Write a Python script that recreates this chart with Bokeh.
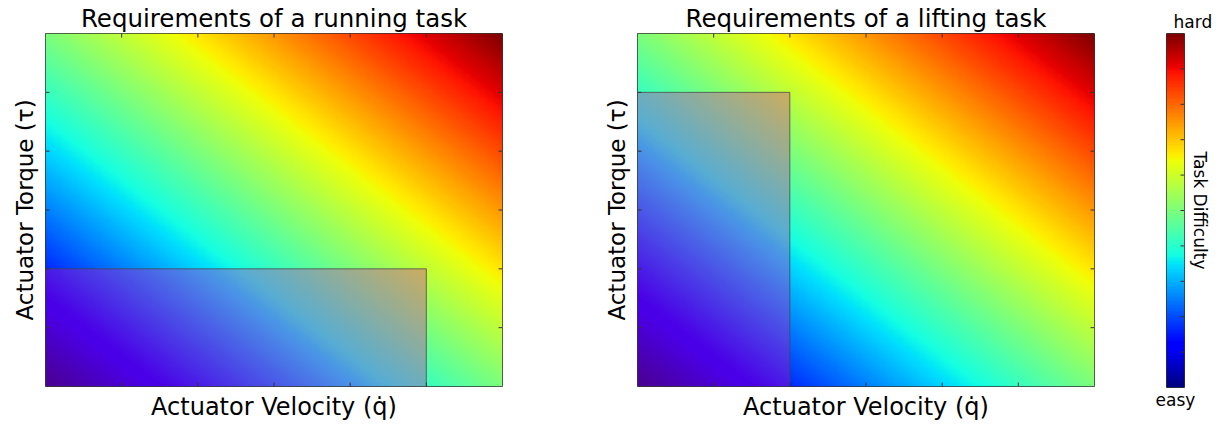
import numpy as np
from bokeh.plotting import figure
from bokeh.models import FixedTicker, LinearColorMapper, Range1d
from bokeh.layouts import row
from bokeh.embed import file_html
from bokeh.resources import INLINE

# ---- data ----
panel_titles = ["Requirements of a running task", "Requirements of a lifting task"]
velocity_requirements = [5, 2]   # required actuator velocity (x extent of shaded box)
torque_requirements = [2, 5]     # required actuator torque (y extent of shaded box)
axis_max = 6
axis_ticks = [1, 2, 3, 4, 5]
colorbar_ticks = [0.1, 0.2, 0.3, 0.4, 0.5, 0.6, 0.7, 0.8, 0.9]
x_label = "Actuator Velocity (q\u0307)"
y_label = "Actuator Torque (\u03c4)"
colorbar_label = "Task Difficulty"
colorbar_top = "hard"
colorbar_bottom = "easy"

FONT = "DejaVu Sans"
EDGE = "#333333"


def jet_palette(n=256):
    # matplotlib 'jet' segment data
    t = np.linspace(0, 1, n)
    r = np.interp(t, [0, 0.35, 0.66, 0.89, 1], [0, 0, 1, 1, 0.5])
    g = np.interp(t, [0, 0.125, 0.375, 0.64, 0.91, 1], [0, 0, 1, 1, 0, 0])
    b = np.interp(t, [0, 0.11, 0.34, 0.65, 1], [0.5, 1, 1, 0, 0])
    return ["#%02x%02x%02x" % (int(round(rr * 255)), int(round(gg * 255)), int(round(bb * 255)))
            for rr, gg, bb in zip(r, g, b)]


JET = jet_palette()


def label_axis(ax, text, size, standoff):
    ax.ticker = FixedTicker(ticks=[])
    ax.major_tick_in = 0
    ax.major_tick_out = 0
    ax.minor_tick_in = 0
    ax.minor_tick_out = 0
    ax.axis_line_color = None
    ax.axis_label = text
    ax.axis_label_text_font = FONT
    ax.axis_label_text_font_style = "normal"
    ax.axis_label_text_color = "#000000"
    ax.axis_label_text_font_size = size
    ax.axis_label_standoff = standoff


def inward_ticks(p, xs=None, ys=None, x_edges=(), y_edges=()):
    # ticks along bottom/top edges at xs, along left/right edges at ys
    for (yedge, ang) in x_edges:
        p.ray(x=xs, y=[yedge] * len(xs), length=4, length_units="screen", angle=ang,
              line_color=EDGE, line_width=1)
    for (xedge, ang) in y_edges:
        p.ray(x=[xedge] * len(ys), y=ys, length=4, length_units="screen", angle=ang,
              line_color=EDGE, line_width=1)


# difficulty field (grows with velocity + torque)
n = 400
grid = np.linspace(0, axis_max, n)
GX, GY = np.meshgrid(grid, grid)
difficulty = GX + GY


def make_panel(title, vreq, treq, left_border, right_border):
    p = figure(frame_width=457, frame_height=353, output_backend="svg", toolbar_location=None,
               x_range=Range1d(0, axis_max), y_range=Range1d(0, axis_max),
               min_border_left=left_border, min_border_right=right_border,
               min_border_top=33, min_border_bottom=34, title=title)
    p.title.text_font = FONT
    p.title.text_font_size = "24.5px"
    p.title.text_font_style = "normal"
    p.title.text_color = "#000000"
    p.title.align = "center"
    p.title.standoff = 2
    p.title.offset = 0
    p.grid.visible = False
    p.outline_line_color = EDGE
    p.outline_line_width = 1
    mapper = LinearColorMapper(palette=JET, low=0, high=2 * axis_max)
    p.image(image=[difficulty], x=0, y=0, dw=axis_max, dh=axis_max, color_mapper=mapper)
    p.quad(left=[0], right=[vreq], bottom=[0], top=[treq], fill_color="#e600b3", fill_alpha=0.32,
           line_color="#444444", line_alpha=0.75, line_width=1)
    inward_ticks(p, xs=axis_ticks, ys=axis_ticks,
                 x_edges=[(0, np.pi / 2), (axis_max, -np.pi / 2)],
                 y_edges=[(0, 0.0), (axis_max, np.pi)])
    label_axis(p.xaxis[0], x_label, "24px", 6)
    label_axis(p.yaxis[0], y_label, "23px", 8)
    return p


p1 = make_panel(panel_titles[0], velocity_requirements[0], torque_requirements[0], 45, 10)
p2 = make_panel(panel_titles[1], velocity_requirements[1], torque_requirements[1], 125, 10)

# colorbar
cb = figure(frame_width=18, frame_height=354, output_backend="svg", toolbar_location=None,
            x_range=Range1d(0, 1), y_range=Range1d(0, 1), y_axis_location="right",
            min_border_left=62, min_border_right=32, min_border_top=33, min_border_bottom=30,
            title=colorbar_top)
cb.title.text_font = FONT
cb.title.text_font_size = "17px"
cb.title.text_font_style = "normal"
cb.title.text_color = "#000000"
cb.title.align = "left"
cb.title.offset = 7
cb.title.standoff = 3
cb.grid.visible = False
cb.outline_line_color = EDGE
cb_mapper = LinearColorMapper(palette=JET, low=0, high=1)
cb.image(image=[np.linspace(0, 1, 256).reshape(256, 1)], x=0, y=0, dw=1, dh=1, color_mapper=cb_mapper)
inward_ticks(cb, ys=colorbar_ticks, y_edges=[(1, np.pi)])
label_axis(cb.yaxis[0], colorbar_label, "17px", 5)
label_axis(cb.xaxis[0], colorbar_bottom, "17px", 2)

layout = row(p1, p2, cb)
open("out.html", "w").write(file_html(layout, INLINE))
